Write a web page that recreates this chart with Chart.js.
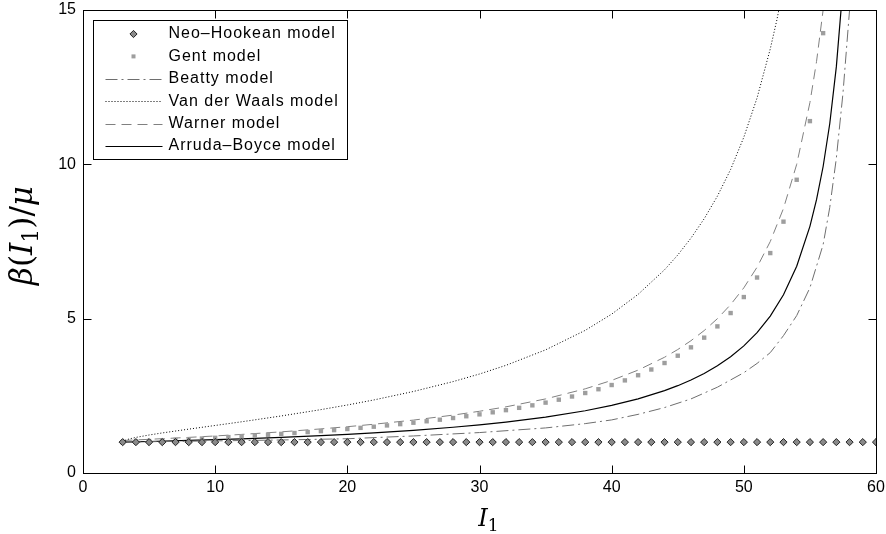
<!DOCTYPE html>
<html lang="en">
  <head>
    <meta charset="UTF-8" />
    <title>beta(I1)/mu for hyperelastic models</title>
    <script src="https://cdn.jsdelivr.net/npm/chart.js"></script>
    <style>
      body { margin: 0; background: #fff; }
    </style>
  </head>
  <body>
    <canvas id="betaChart" width="886" height="534"></canvas>
    <script>
      // values
      const neoI = [3, 4, 5, 6, 7, 8, 9, 10, 11, 12, 13, 14, 15, 16, 17, 18, 19, 20, 21, 22, 23, 24, 25, 26, 27, 28, 29, 30, 31, 32, 33, 34, 35, 36, 37, 38, 39, 40, 41, 42, 43, 44, 45, 46, 47, 48, 49, 50, 51, 52, 53, 54, 55, 56, 57, 58, 59, 60];
      const neoBeta = [1, 1, 1, 1, 1, 1, 1, 1, 1, 1, 1, 1, 1, 1, 1, 1, 1, 1, 1, 1, 1, 1, 1, 1, 1, 1, 1, 1, 1, 1, 1, 1, 1, 1, 1, 1, 1, 1, 1, 1, 1, 1, 1, 1, 1, 1, 1, 1, 1, 1, 1, 1, 1, 1, 1, 1, 1, 1];

      const gentI = [3, 4, 5, 6, 7, 8, 9, 10, 11, 12, 13, 14, 15, 16, 17, 18, 19, 20, 21, 22, 23, 24, 25, 26, 27, 28, 29, 30, 31, 32, 33, 34, 35, 36, 37, 38, 39, 40, 41, 42, 43, 44, 45, 46, 47, 48, 49, 50, 51, 52, 53, 54, 55, 56];
      const gentBeta = [1.000, 1.018, 1.036, 1.056, 1.075, 1.096, 1.118, 1.140, 1.163, 1.188, 1.213, 1.239, 1.267, 1.295, 1.326, 1.357, 1.390, 1.425, 1.462, 1.500, 1.541, 1.583, 1.629, 1.676, 1.727, 1.781, 1.839, 1.900, 1.966, 2.036, 2.111, 2.192, 2.280, 2.375, 2.478, 2.591, 2.714, 2.850, 3.000, 3.167, 3.353, 3.563, 3.800, 4.071, 4.385, 4.750, 5.182, 5.700, 6.333, 7.125, 8.143, 9.500, 11.40, 14.25];

      const beattyI = [3, 6, 10, 15, 20, 25, 30, 35, 38, 40, 42, 44, 46, 48, 50, 51, 52, 53, 54, 55, 56, 56.5, 57, 57.5, 58, 58.5];
      const beattyBeta = [1.0, 1.02, 1.04, 1.07, 1.11, 1.20, 1.31, 1.46, 1.60, 1.72, 1.90, 2.12, 2.40, 2.78, 3.25, 3.55, 3.90, 4.45, 5.10, 6.0, 7.4, 8.6, 10.2, 12.3, 15.0, 18.5];

      const vdwI = [3, 3.25, 3.5, 4, 5, 6, 8, 10, 12, 15, 18, 20, 22, 25, 28, 30, 32, 35, 38, 40, 42, 44, 45, 46, 47, 48, 49, 50, 51, 52, 52.5, 53, 53.5];
      const vdwBeta = [1.0, 1.071, 1.103, 1.153, 1.231, 1.298, 1.421, 1.540, 1.659, 1.848, 2.053, 2.203, 2.366, 2.641, 2.961, 3.207, 3.488, 3.989, 4.621, 5.147, 5.787, 6.583, 7.062, 7.610, 8.237, 8.969, 9.833, 10.88, 12.15, 13.74, 14.68, 15.77, 17.03];

      const warnerI = [3, 5, 8, 10, 12, 15, 18, 20, 22, 25, 28, 30, 32, 35, 38, 40, 42, 44, 45, 46, 47, 48, 49, 50, 51, 52, 53, 54, 55, 55.5, 56, 56.5];
      const warnerBeta = [1.053, 1.091, 1.154, 1.2, 1.25, 1.333, 1.429, 1.5, 1.579, 1.714, 1.875, 2.0, 2.143, 2.4, 2.727, 3.0, 3.333, 3.75, 4.0, 4.286, 4.615, 5.0, 5.455, 6.0, 6.667, 7.5, 8.571, 10.0, 12.0, 13.33, 15.0, 17.14];

      const abI = [3, 5, 8, 10, 12, 15, 18, 20, 22, 25, 28, 30, 32, 35, 38, 40, 42, 44, 45, 46, 47, 48, 49, 50, 51, 52, 53, 54, 55, 55.5, 56, 56.5, 57, 57.5];
      const abBeta = [1.0, 1.020, 1.054, 1.079, 1.108, 1.155, 1.211, 1.254, 1.301, 1.383, 1.482, 1.559, 1.648, 1.810, 2.017, 2.190, 2.403, 2.669, 2.829, 3.013, 3.225, 3.472, 3.765, 4.117, 4.546, 5.084, 5.775, 6.698, 7.992, 8.854, 9.930, 11.315, 13.165, 15.755];

      const xTicks = [0, 10, 20, 30, 40, 50, 60];
      const yTicks = [0, 5, 10, 15];

      const toPoints = (xs, ys) => xs.map((x, i) => ({ x: x, y: ys[i] }));

      const labelFont = '16px "Liberation Sans", Arial, sans-serif';
      const mathFamily = '"DejaVu Serif", "Liberation Serif", serif';
      const tickLen = 8;

      // MATLAB style box with inward ticks on all four sides
      const frameAndTicks = {
        id: "frameAndTicks",
        afterDraw(chart) {
          const { ctx, chartArea: a, scales } = chart;
          const l = Math.round(a.left) + 0.5;
          const r = Math.round(a.right) + 0.5;
          const t = Math.round(a.top) + 0.5;
          const b = Math.round(a.bottom) + 0.5;
          ctx.save();
          ctx.strokeStyle = "#000";
          ctx.lineWidth = 1;
          ctx.setLineDash([]);
          ctx.strokeRect(l, t, r - l, b - t);
          ctx.beginPath();
          xTicks.forEach((v) => {
            const px = Math.round(scales.x.getPixelForValue(v)) + 0.5;
            ctx.moveTo(px, b);
            ctx.lineTo(px, b - tickLen);
            ctx.moveTo(px, t);
            ctx.lineTo(px, t + tickLen);
          });
          yTicks.forEach((v) => {
            const py = Math.round(scales.y.getPixelForValue(v)) + 0.5;
            ctx.moveTo(l, py);
            ctx.lineTo(l + tickLen, py);
            ctx.moveTo(r, py);
            ctx.lineTo(r - tickLen, py);
          });
          ctx.stroke();
          ctx.restore();
        },
      };

      // draws a run of [text, italic, scale, drop] pieces starting at x, baseline y
      function mathRun(ctx, pieces, size, x, y) {
        pieces.forEach(([txt, italic, k, drop]) => {
          ctx.font = (italic ? "italic " : "") + Math.round(size * k) + "px " + mathFamily;
          ctx.fillText(txt, x, y + drop * size);
          x += ctx.measureText(txt).width;
        });
        return x;
      }
      function runWidth(ctx, pieces, size) {
        let w = 0;
        pieces.forEach(([txt, italic, k]) => {
          ctx.font = (italic ? "italic " : "") + Math.round(size * k) + "px " + mathFamily;
          w += ctx.measureText(txt).width;
        });
        return w;
      }

      const xTitle = [["I", true, 1, 0], ["1", false, 0.7, 0.2]];
      const yTitle = [["\u03B2", true, 1, 0], ["(", false, 1, 0], ["I", true, 1, 0], ["1", false, 0.7, 0.2], [")", false, 1, 0], ["/", false, 1, 0], ["\u03BC", true, 1, 0]];

      const axisTitles = {
        id: "axisTitles",
        afterDraw(chart) {
          const { ctx, chartArea: a } = chart;
          ctx.save();
          ctx.fillStyle = "#000";
          ctx.textBaseline = "alphabetic";
          ctx.textAlign = "left";
          const xc = (a.left + a.right) / 2;
          mathRun(ctx, xTitle, 24, xc - runWidth(ctx, xTitle, 24) / 2 + 9, 526);
          const yc = (a.top + a.bottom) / 2 - 6;
          ctx.translate(32, yc);
          ctx.rotate(-Math.PI / 2);
          mathRun(ctx, yTitle, 31, -runWidth(ctx, yTitle, 31) / 2, 0);
          ctx.restore();
        },
      };

      function drawDiamond(ctx, x, y, r) {
        ctx.beginPath();
        ctx.moveTo(x, y - r);
        ctx.lineTo(x + r, y);
        ctx.lineTo(x, y + r);
        ctx.lineTo(x - r, y);
        ctx.closePath();
      }

      // boxed legend in the upper left corner of the axes
      const boxLegend = {
        id: "boxLegend",
        afterDraw(chart) {
          const { ctx, chartArea: a } = chart;
          const bx = Math.round(a.left) + 10.5;
          const by = Math.round(a.top) + 10.5;
          const bw = 254;
          const bh = 139;
          ctx.save();
          ctx.fillStyle = "#fff";
          ctx.fillRect(bx, by, bw, bh);
          ctx.strokeStyle = "#000";
          ctx.lineWidth = 1;
          ctx.setLineDash([]);
          ctx.strokeRect(bx, by, bw, bh);

          chart.data.datasets.forEach((ds, i) => {
            const cy = by + 13.5 + i * 22.4;
            const x0 = bx + 12;
            const x1 = bx + 69;
            const xm = bx + 40;
            if (ds.showLine) {
              ctx.save();
              ctx.strokeStyle = ds.borderColor;
              ctx.lineWidth = ds.borderWidth;
              ctx.setLineDash(ds.borderDash || []);
              ctx.beginPath();
              ctx.moveTo(x0, Math.round(cy) + 0.5);
              ctx.lineTo(x1, Math.round(cy) + 0.5);
              ctx.stroke();
              ctx.restore();
            } else if (ds.pointStyle === "rectRot") {
              drawDiamond(ctx, xm, cy, ds.pointRadius);
              ctx.fillStyle = ds.pointBackgroundColor;
              ctx.fill();
              ctx.strokeStyle = ds.pointBorderColor;
              ctx.stroke();
            } else {
              ctx.fillStyle = ds.pointBackgroundColor;
              ctx.fillRect(xm - 2, cy - 2, 4, 4);
            }
            ctx.fillStyle = "#000";
            ctx.font = labelFont;
            ctx.letterSpacing = "1px";
            ctx.textBaseline = "middle";
            ctx.textAlign = "left";
            ctx.fillText(ds.label, bx + 75, cy);
          });
          ctx.restore();
        },
      };

      const ctx = document.getElementById("betaChart").getContext("2d");
      const betaChart = new Chart(ctx, {
        type: "scatter",
        data: {
          datasets: [
            {
              label: "Neo\u2013Hookean model",
              data: toPoints(neoI, neoBeta),
              showLine: false,
              pointStyle: "rectRot",
              pointRadius: 3.6,
              pointBackgroundColor: "#8a8a8a",
              pointBorderColor: "#222",
              pointBorderWidth: 1,
            },
            {
              label: "Gent model",
              data: toPoints(gentI, gentBeta),
              showLine: false,
              pointStyle: "rect",
              pointRadius: 3.1,
              pointBackgroundColor: "#9e9e9e",
              pointBorderColor: "#9e9e9e",
              pointBorderWidth: 0,
            },
            {
              label: "Beatty model",
              data: toPoints(beattyI, beattyBeta),
              showLine: true,
              borderColor: "#6e6e6e",
              borderWidth: 1,
              borderDash: [12, 4, 2, 4],
              pointRadius: 0,
            },
            {
              label: "Van der Waals model",
              data: toPoints(vdwI, vdwBeta),
              showLine: true,
              borderColor: "#000",
              borderWidth: 1,
              borderDash: [1, 2],
              pointRadius: 0,
            },
            {
              label: "Warner model",
              data: toPoints(warnerI, warnerBeta),
              showLine: true,
              borderColor: "#808080",
              borderWidth: 1,
              borderDash: [10, 6],
              pointRadius: 0,
            },
            {
              label: "Arruda\u2013Boyce model",
              data: toPoints(abI, abBeta),
              showLine: true,
              borderColor: "#000",
              borderWidth: 1.2,
              pointRadius: 0,
            },
          ],
        },
        options: {
          responsive: false,
          animation: false,
          layout: { padding: 0 },
          plugins: {
            legend: { display: false },
            tooltip: { enabled: false },
          },
          scales: {
            x: {
              type: "linear",
              min: 0,
              max: 60,
              afterBuildTicks: (scale) => {
                scale.ticks = xTicks.map((v) => ({ value: v }));
              },
              ticks: {
                color: "#000",
                padding: 5,
                maxRotation: 0,
                font: { family: '"Liberation Sans", Arial, sans-serif', size: 16 },
              },
              grid: { display: false, drawTicks: false },
              border: { display: false },
              afterFit: (scale) => {
                scale.height = 61;
                scale.paddingLeft = 0;
                scale.paddingRight = 10;
              },
            },
            y: {
              min: 0,
              max: 15,
              afterBuildTicks: (scale) => {
                scale.ticks = yTicks.map((v) => ({ value: v }));
              },
              ticks: {
                color: "#000",
                padding: 7,
                font: { family: '"Liberation Sans", Arial, sans-serif', size: 16 },
              },
              grid: { display: false, drawTicks: false },
              border: { display: false },
              afterFit: (scale) => {
                scale.width = 83;
                scale.paddingTop = 10;
                scale.paddingBottom = 0;
              },
            },
          },
        },
        plugins: [frameAndTicks, boxLegend, axisTitles],
      });
    </script>
  </body>
</html>
